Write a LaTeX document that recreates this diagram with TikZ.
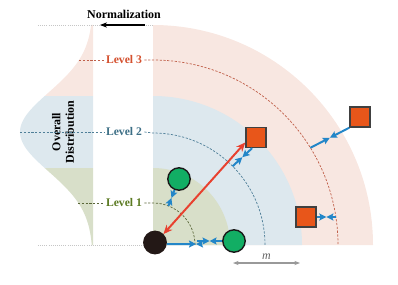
\documentclass[tikz,border=0pt]{standalone}
\usepackage{fontspec}
\setmainfont{Liberation Serif}
\definecolor{LevPink}{HTML}{F8E7E1}
\definecolor{LevBlue}{HTML}{DDE8EE}
\definecolor{LevGreen}{HTML}{D8DFC9}
\definecolor{LevRed}{HTML}{D4502E}
\definecolor{LevTeal}{HTML}{3D6F86}
\definecolor{LevOlive}{HTML}{5B7A22}
\definecolor{DashRed}{HTML}{C0604A}
\definecolor{DashTeal}{HTML}{4F7F98}
\definecolor{DashOlive}{HTML}{5A6638}
\definecolor{ObjOrange}{HTML}{E8561A}
\definecolor{ObjGreen}{HTML}{12AE64}
\definecolor{ObjDark}{HTML}{231816}
\definecolor{PullBlue}{HTML}{2386C8}
\definecolor{PushRed}{HTML}{E8412F}
\usepackage{tikz}
\usetikzlibrary{arrows.meta, calc}

\begin{document}
\begin{tikzpicture}[x=0.025cm, y=0.025cm,
                lbl/.style={font=\fontsize{8.3}{9}\selectfont\bfseries, inner sep=1.5pt},
                lvl/.style={line width=0.5pt, dash pattern=on 1.6pt off 1.1pt},
                ball/.style={circle, draw=black!90, line width=1pt, minimum size=0.56cm, inner sep=0pt},
                sq/.style={rectangle, draw=black!75, line width=1pt, fill=ObjOrange, minimum size=0.5cm, inner sep=0pt},
                pull/.style={-{Stealth[length=5pt, width=5pt, inset=0.9pt]}, line width=1.4pt, PullBlue},
                push/.style={{Stealth[length=6.5pt, width=5.5pt]}-{Stealth[length=6.5pt, width=5.5pt]}, line width=1.4pt, PushRed}
            ]
                \useasboundingbox (-153,-39) rectangle (245,245);
                \fill[LevPink] plot[domain=149:220, samples=40, variable=\t] ({-60-73*exp(-((\t-113)/56)^2)}, \t) -- (-60,220) -- (-60,149) -- cycle;
                \fill[LevBlue] plot[domain=77:149, samples=40, variable=\t] ({-60-73*exp(-((\t-113)/56)^2)}, \t) -- (-60,149) -- (-60,77) -- cycle;
                \fill[LevGreen] plot[domain=0:77, samples=40, variable=\t] ({-60-73*exp(-((\t-113)/56)^2)}, \t) -- (-60,77) -- (-60,0) -- cycle;
                \fill[LevPink] (0,0) -- (220,0) arc[start angle=0, end angle=90, radius=220] -- cycle;
                \fill[LevBlue] (0,0) -- (149,0) arc[start angle=0, end angle=90, radius=149] -- cycle;
                \fill[LevGreen] (0,0) -- (77,0) arc[start angle=0, end angle=90, radius=77] -- cycle;
                \draw[gray!45, densely dotted, line width=0.5pt] (-115,220) -- (0,220);
                \draw[gray!45, densely dotted, line width=0.5pt] (-115,0) -- (0,0);
                \node[font=\fontsize{8.5}{9.5}\selectfont\bfseries, rotate=90, align=center] (ovr) at (-90,113) {Overall\\Distribution};
                \node[lbl, text=LevRed] (lv3) at (-29,185) {Level 3};
                \node[lbl, text=LevTeal] (lv2) at (-29,113) {Level 2};
                \node[lbl, text=LevOlive] (lv1) at (-29,42) {Level 1};
                \draw[lvl, DashRed] (-74,185) -- (lv3.west);
                \draw[lvl, DashRed] (lv3.east) -- (0,185) arc[start angle=90, end angle=0, radius=185];
                \draw[lvl, DashTeal] (-133,113) -- (lv2.west);
                \draw[lvl, DashTeal] (lv2.east) -- (0,112) arc[start angle=90, end angle=0, radius=112];
                \draw[lvl, DashOlive] (-75,42) -- (lv1.west);
                \draw[lvl, DashOlive] (lv1.east) -- (0,42) arc[start angle=90, end angle=0, radius=42];
                \node[font=\fontsize{8.5}{9.5}\selectfont\bfseries] (nz) at (-29,231) {Normalization};
                \coordinate (n0) at (-8,220);
                \coordinate (n1) at (-53,220);
                \draw[-{Stealth[length=5pt]}, line width=1.2pt] (n0) -- (n1);
                \node[ball, fill=ObjDark, draw=ObjDark] (o) at (2,2.5) {};
                \node[ball, fill=ObjGreen] (g1) at (26,66) {};
                \node[ball, fill=ObjGreen] (g2) at (81,4) {};
                \node[sq] (s1) at (103,107.5) {};
                \node[sq] (s2) at (153,28) {};
                \node[sq] (s3) at (207,128) {};
                \coordinate (b0) at (43,1);
                \coordinate (b0r) at (49,1);
                \coordinate (b1) at (68.5:42);
                \coordinate (b2) at (44,4);
                \coordinate (b3) at (44.7:112);
                \coordinate (b4) at (183,28);
                \coordinate (b5) at (31.7:185);
                \draw[pull] (o.-8) -- (b0);
                \draw[pull] (b0r) -- (b0);
                \foreach \a/\b in {g1.248.5/b1, g2.west/b2, s1.250/b3, s2.east/b4, s3.south west/b5} {
                    \draw[pull] (\a) -- ($(\a)!0.5!(\b)$);
                    \draw[pull] (\b) -- ($(\a)!0.5!(\b)$);
                }
                \draw[push] (o.45) -- (s1.205);
                \coordinate (m0) at (80,-18);
                \coordinate (m1) at (147,-18);
                \draw[{Stealth[length=4pt]}-{Stealth[length=4pt]}, line width=0.8pt, black!40] (m0) -- node[above=-1pt, font=\fontsize{8.5}{9}\selectfont\itshape, text=black!60] (mlbl) {m} (m1);
            \end{tikzpicture}
\end{document}
